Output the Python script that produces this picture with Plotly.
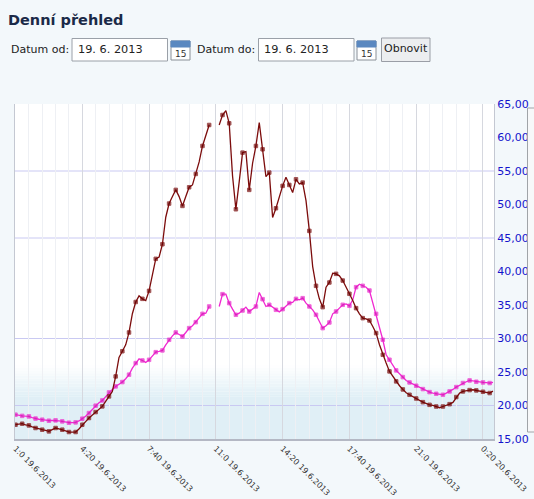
import plotly.graph_objects as go
import pandas as pd

# ---------------- data ----------------
times = pd.date_range("2013-06-19 01:00", periods=144, freq="10min")

dark_series = [
    17.13, 17.2, 17.28, 17.1, 17.03, 16.8, 16.64, 16.5, 16.39, 16.3,
    16.14, 16.4, 16.64, 16.5, 16.39, 16.2, 16.04, 16.04, 16.04, 16.5,
    17.13, 17.6, 18.13, 18.6, 19.02, 19.4, 19.87, 20.6, 21.36, 22.1,
    24.34, 27.17, 28.1, 29.06, 30.9, 33.7, 35.45, 36.37, 35.92, 35.67,
    37.11, 39.5, 41.89, 42.14, 44.07, 48.1, 50.14, 51.2, 52.18, 51.18,
    49.79, 51.2, 52.57, 52.92, 54.56, 56.35, 58.74, 60.33, 61.87, None,
    None, 61.87, 63.36, 64.0, 62.12, 54.26, 49.29, 53.41, 57.74, 57.89,
    52.18, 56.16, 58.74, 62.22, 58.24, 54.16, 54.76, 48.05, 49.44, 51.33,
    52.78, 54.06, 52.92, 51.78, 53.76, 53.07, 53.27, 50.58, 46.06, 40.74,
    37.86, 35.92, 34.68, 37.66, 38.36, 39.75, 39.65, 39.35, 38.65, 37.76,
    36.67, 35.67, 34.53, 33.68, 33.04, 32.94, 32.69, 31.8, 30.8, 29.06,
    27.57, 26.33, 25.09, 24.34, 23.6, 22.95, 22.4, 21.9, 21.6, 21.36,
    21.05, 20.76, 20.5, 20.26, 20.1, 20.01, 19.85, 19.67, 19.85, 20.01,
    20.2, 20.46, 21.26, 21.86, 22.1, 22.25, 22.3, 22.35, 22.25, 22.15,
    22.05, 21.95, 21.86, 22.15,
]

pink_series = [
    18.63, 18.5, 18.45, 18.4, 18.37, 18.2, 18.05, 17.95, 17.88, 17.8,
    17.73, 17.76, 17.78, 17.7, 17.63, 17.5, 17.43, 17.45, 17.48, 17.7,
    18.03, 18.4, 18.87, 19.4, 19.97, 20.4, 20.76, 21.3, 21.95, 22.4,
    22.85, 23.2, 23.5, 24.0, 24.6, 25.58, 26.33, 26.97, 26.72, 26.43,
    26.82, 27.32, 27.96, 28.07, 28.22, 29.06, 29.81, 30.4, 30.9, 30.55,
    30.3, 30.9, 31.55, 31.9, 32.44, 33.14, 33.68, 33.78, 34.78, None,
    None, 34.78, 36.62, 36.62, 35.28, 34.38, 33.54, 33.79, 34.18, 34.68,
    34.03, 34.38, 34.78, 36.87, 35.87, 34.78, 35.03, 34.68, 34.28, 33.98,
    34.38, 34.88, 35.28, 35.38, 35.92, 35.77, 36.02, 35.28, 34.78, 34.28,
    33.54, 32.6, 31.55, 31.9, 32.39, 33.68, 34.03, 34.53, 35.03, 35.17,
    34.88, 35.77, 37.66, 38.11, 37.86, 37.66, 37.16, 35.37, 33.68, 31.9,
    29.81, 27.57, 26.83, 25.93, 25.24, 24.74, 24.24, 23.74, 23.44, 23.2,
    22.95, 22.7, 22.45, 22.2, 22.0, 21.85, 21.75, 21.68, 21.6, 21.85,
    22.1, 22.4, 22.75, 23.05, 23.35, 23.55, 23.74, 23.65, 23.54, 23.5,
    23.44, 23.4, 23.35, 23.44,
]

tick_vals = ["2013-06-19 01:00", "2013-06-19 04:20", "2013-06-19 07:40",
             "2013-06-19 11:00", "2013-06-19 14:20", "2013-06-19 17:40",
             "2013-06-19 21:00", "2013-06-20 00:20"]
tick_text = ["1:0 19.6.2013", "4:20 19.6.2013", "7:40 19.6.2013",
             "11:0 19.6.2013", "14:20 19.6.2013", "17:40 19.6.2013",
             "21:0 19.6.2013", "0:20 20.6.2013"]
y_ticks = [15, 20, 25, 30, 35, 40, 45, 50, 55, 60, 65]
grid_y = [20, 30, 45, 55]

# ---------------- layout geometry ----------------
W, H = 534, 499
ML, MR, MT, MB = 15, 40, 104, 60
PW, PH = W - ML - MR, H - MT - MB
PAGE_BG = "#f3f8fb"


def px(x):
    return (x - ML) / PW


def py(y):
    return (H - MB - y) / PH


FONT = "DejaVu Sans"
marker_sizes = [3.5 if i % 2 == 0 else 0 for i in range(len(times))]

fig = go.Figure()
fig.add_trace(go.Scatter(
    x=times, y=pink_series, mode="lines+markers", connectgaps=False,
    line=dict(color="#f028d0", width=1.3),
    marker=dict(size=marker_sizes, color="#d21cb4", symbol="square"),
    hoverinfo="x+y", showlegend=False,
))
fig.add_trace(go.Scatter(
    x=times, y=dark_series, mode="lines+markers", connectgaps=False,
    line=dict(color="#7c0c0c", width=1.3),
    marker=dict(size=marker_sizes, color="#660000", symbol="square"),
    hoverinfo="x+y", showlegend=False,
))

shapes = []
# light-blue gradient at the bottom of the plot area
g_top, g_bot = 26.0, 21.3
top_rgb = (255, 255, 255)
bot_rgb = (224, 239, 246)
n = 12
for k in range(n):
    f = (k + 0.5) / n
    c = tuple(int(round(top_rgb[j] + (bot_rgb[j] - top_rgb[j]) * f)) for j in range(3))
    y0 = g_top - (g_top - g_bot) * k / n
    y1 = g_top - (g_top - g_bot) * (k + 1) / n
    shapes.append(dict(type="rect", xref="paper", yref="y", x0=0, x1=1, y0=y1, y1=y0,
                       fillcolor="rgb(%d,%d,%d)" % c, line=dict(width=0), layer="below"))
shapes.append(dict(type="rect", xref="paper", yref="y", x0=0, x1=1, y0=15, y1=g_bot,
                   fillcolor="rgb(%d,%d,%d)" % bot_rgb, line=dict(width=0), layer="below"))
# horizontal grid lines
for gy in grid_y:
    shapes.append(dict(type="line", xref="paper", yref="y", x0=0, x1=1, y0=gy, y1=gy,
                       line=dict(color="#c9c9f2", width=1), layer="below"))


# ---------------- form header (decoration) ----------------
def box(x0, y0, x1, y1, fill, line="#a9a9a9", lw=1):
    shapes.append(dict(type="rect", xref="paper", yref="paper",
                       x0=px(x0), x1=px(x1), y0=py(y1), y1=py(y0),
                       fillcolor=fill, line=dict(color=line, width=lw), layer="above"))


box(72, 38.5, 167.5, 61, "white", "#9aa0a8")
box(258.5, 38.5, 354, 61, "white", "#9aa0a8")
for ix in (171, 357):
    box(ix, 41, ix + 19, 60, "white", "#8a9098")
    box(ix, 41, ix + 19, 47, "#5a88c0", "#5a88c0")
box(381.5, 38, 430, 61.5, "#eceef0", "#9a9ea6")
# scroll element at far right
box(527.5, 108, 540, 432, "#f7f8f9", "#a0a4a8")

annotations = []


def text(x, y, s, size, color="#222222", bold=False, anchor="left"):
    annotations.append(dict(
        xref="paper", yref="paper", x=px(x), y=py(y), text=("<b>%s</b>" % s) if bold else s,
        showarrow=False, xanchor=anchor, yanchor="middle",
        font=dict(family=FONT, size=size, color=color)))


text(6, 19.5, "Denní přehled", 14.5, "#1b2a48", bold=True)
text(8.5, 49.5, "Datum od:", 11)
text(75.5, 50, "19. 6. 2013", 11.3)
text(194.5, 49.5, "Datum do:", 11)
text(262, 50, "19. 6. 2013", 11.3)
text(405.5, 49, "Obnovit", 11, anchor="center")
for ix in (171, 357):
    text(ix + 9.5, 54, "15", 9, "#333333", anchor="center")

fig.update_layout(
    width=W, height=H,
    margin=dict(l=ML, r=MR, t=MT, b=MB, pad=0),
    paper_bgcolor=PAGE_BG,
    plot_bgcolor="white",
    separators=", ",
    shapes=shapes,
    annotations=annotations,
    font=dict(family=FONT),
    xaxis=dict(
        type="date", automargin=False,
        range=["2013-06-19 00:58:30", "2013-06-20 00:53:00"],
        tickmode="array", tickvals=tick_vals, ticktext=tick_text,
        tickangle=45, tickfont=dict(family=FONT, size=8, color="#333333"),
        showgrid=True, gridcolor="#d6d8df", gridwidth=1,
        minor=dict(dtick=40 * 60 * 1000, tick0="2013-06-19 01:00", showgrid=True,
                   gridcolor="#eef0f4", gridwidth=1),
        showline=True, linecolor="#b4b8c4", linewidth=1.5,
        ticks="", zeroline=False, fixedrange=True,
    ),
    yaxis=dict(
        side="right", range=[15, 65], automargin=False,
        tickmode="array", tickvals=y_ticks, tickformat=".2f",
        tickfont=dict(family=FONT, size=11, color="#1414cc"),
        showgrid=False, zeroline=False,
        showline=True, linecolor="#c4c8d2", linewidth=1, mirror=True,
        ticks="", fixedrange=True,
    ),
)

fig.write_html(
    "out.html",
    config={"displayModeBar": False},
    post_script="document.body.style.margin='0';document.body.style.background='%s';" % PAGE_BG,
)
